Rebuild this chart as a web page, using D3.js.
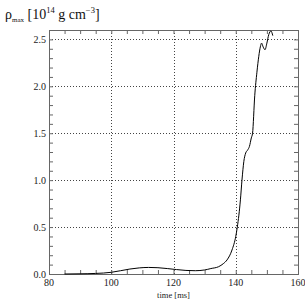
<!DOCTYPE html>
<meta charset="utf-8">
<script src="https://d3js.org/d3.v7.min.js"></script>
<style>
  body { margin: 0; background: #fff; }
  text { font-family: "Liberation Serif", "Times New Roman", serif; }
</style>
<div id="chart"></div>
<script>
// time [ms] and peak density [10^14 g cm^-3]
const timeMs = [85, 90, 95, 100, 103, 106, 109, 112, 115, 118, 121, 124, 127, 130, 132, 134.5,
                136, 137.2, 138.8, 140, 140.5, 141.5, 142, 142.6, 143.2, 143.8, 144.4, 145, 145.4,
                146.1, 146.8, 147.4, 147.9, 148.3, 148.8, 149.4, 150, 150.6, 151.3, 151.9]
const rhoMax = [0, 0.002, 0.006, 0.018, 0.035, 0.053, 0.065, 0.07, 0.067, 0.058, 0.047, 0.038, 0.035, 0.043, 0.058, 0.078,
                0.11, 0.15, 0.256, 0.4, 0.5, 0.79, 1.0, 1.2, 1.29, 1.32, 1.36, 1.45, 1.5,
                1.9, 2.15, 2.32, 2.42, 2.46, 2.42, 2.39, 2.46, 2.55, 2.59, 2.54]
const xTicks = [80, 100, 120, 140, 160]
const yTicks = [0.0, 0.5, 1.0, 1.5, 2.0, 2.5]

const margin = {top: 30, right: 7, bottom: 31, left: 49}
const width = 305 - margin.left - margin.right
const height = 305 - margin.top - margin.bottom

const svg = d3.select("#chart")
              .append("svg")
              .attr("width", 305)
              .attr("height", 305)
const g = svg.append("g")
             .attr("transform", `translate(${margin.left}, ${margin.top})`)

const x = d3.scaleLinear().domain([80, 160]).range([0, width])
const y = d3.scaleLinear().domain([0, 2.6]).range([height, 0])

const frame = "#666"

// dotted grid at the major ticks
g.append("g")
  .selectAll("line")
  .data(xTicks.slice(1, -1))
  .join("line")
    .attr("x1", d => Math.round(x(d)) + 0.5)
    .attr("x2", d => Math.round(x(d)) + 0.5)
    .attr("y1", 0).attr("y2", height)
    .attr("stroke", "#444")
    .attr("stroke-dasharray", "1,2")
g.append("g")
  .selectAll("line")
  .data(yTicks.slice(1))
  .join("line")
    .attr("y1", d => Math.round(y(d)) + 0.5)
    .attr("y2", d => Math.round(y(d)) + 0.5)
    .attr("x1", 0).attr("x2", width)
    .attr("stroke", "#444")
    .attr("stroke-dasharray", "1,2")

// inward ticks on all four sides: minor every 5 ms / 0.1
function ticks(axis, vals, size) {
  return axis.tickValues(vals).tickSize(size).tickFormat("")
}
const minorX = d3.range(85, 160, 5)
const minorY = d3.range(1, 26).map(d => d / 10)

function styleAxis(sel) {
  sel.select(".domain").remove()
  sel.selectAll("line").attr("stroke", frame)
}
g.append("g").attr("transform", `translate(0, ${height})`)
  .call(ticks(d3.axisTop(x), minorX, 4)).call(styleAxis)
g.append("g")
  .call(ticks(d3.axisBottom(x), minorX, 4)).call(styleAxis)
g.append("g")
  .call(ticks(d3.axisRight(y), minorY, 4)).call(styleAxis)
g.append("g").attr("transform", `translate(${width}, 0)`)
  .call(ticks(d3.axisLeft(y), minorY, 4)).call(styleAxis)

// frame
g.append("rect")
  .attr("x", 0.5).attr("y", 0.5)
  .attr("width", width).attr("height", height)
  .attr("fill", "none")
  .attr("stroke", frame)

// tick labels
g.append("g")
  .selectAll("text")
  .data(xTicks)
  .join("text")
    .attr("x", d => x(d))
    .attr("y", height + 12)
    .attr("text-anchor", "middle")
    .attr("font-size", 10)
    .attr("fill", "#222")
    .text(d => d)
g.append("g")
  .selectAll("text")
  .data(yTicks)
  .join("text")
    .attr("x", -3)
    .attr("y", d => y(d) + 3.5)
    .attr("text-anchor", "end")
    .attr("font-size", 10)
    .attr("fill", "#222")
    .text(d => d.toFixed(1))

g.append("text")
  .attr("x", width / 2)
  .attr("y", height + 24)
  .attr("text-anchor", "middle")
  .attr("font-size", 8.5)
  .attr("fill", "#222")
  .text("time [ms]")

// the curve
const data = timeMs.map((t, i) => ({t: t, v: rhoMax[i]}))
g.append("path")
  .datum(data)
  .attr("fill", "none")
  .attr("stroke", "#000")
  .attr("stroke-width", 1)
  .attr("d", d3.line().x(d => x(d.t)).y(d => y(d.v)).curve(d3.curveMonotoneX))

// title
const title = svg.append("text")
  .attr("x", 5)
  .attr("y", 19)
  .attr("font-size", 14)
  .attr("fill", "#111")
title.append("tspan").text("ρ")
title.append("tspan").attr("font-size", 7).attr("dy", 3).text("max")
title.append("tspan").attr("dy", -3).text(" [10")
title.append("tspan").attr("font-size", 8.5).attr("dy", -6).text("14")
title.append("tspan").attr("dy", 6).text(" g cm")
title.append("tspan").attr("font-size", 8.5).attr("dy", -6).text("−3")
title.append("tspan").attr("dy", 6).text("]")
</script>
